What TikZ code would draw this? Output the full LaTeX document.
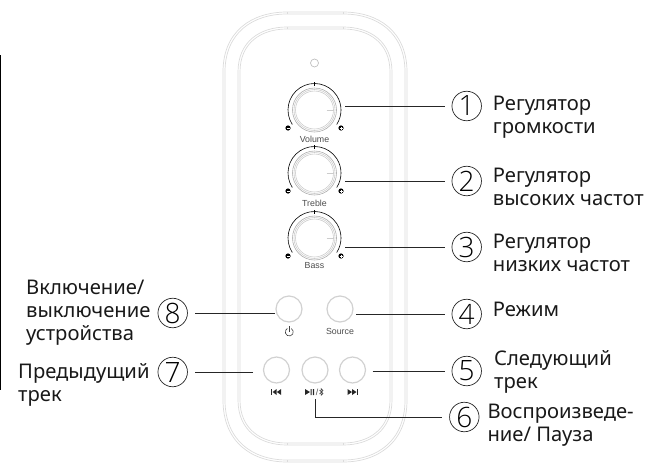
\documentclass[tikz,border=0pt]{standalone}
\usepackage{fontspec}
\setmainfont{Noto Sans}
\newfontfamily\labelfont{Liberation Sans}
\newfontfamily\numfont{Open Sans Light}
\newcommand{\outlinebody}[6]{% l r t b ytop ybottom
  (#1,#5) .. controls (#1,{#3+0.32*(#5-#3)}) and ({#1+0.45*(287-#1)},#3) .. (287,#3) -- (343,#3)
  .. controls ({#2-0.45*(#2-343)},#3) and (#2,{#3+0.32*(#5-#3)}) .. (#2,#5) -- (#2,#6)
  .. controls (#2,{#4-0.32*(#4-#6)}) and ({#2-0.45*(#2-343)},#4) .. (343,#4) -- (287,#4)
  .. controls ({#1+0.45*(287-#1)},#4) and (#1,{#4-0.32*(#4-#6)}) .. (#1,#6) -- cycle}
\newcommand{\knob}[3]{%
  \begin{scope}[shift={(314.5,#1)},y=1pt]
    \draw[scaleline] (213:26.5) arc[start angle=213,end angle=-33,radius=26.5];
    \draw[scaleline] (0,24.5) -- (0,28);
    \draw[bodythin,draw=black!32] (0,0) circle[radius=22];
    \draw[bodythin] (0,0) circle[radius=20.5];
    \draw[bodythin] (0,0) circle[radius=19];
    \draw[bodythin] (12,0) -- (19,0);
    \fill (-26.5,-18) circle[radius=2.6];
    \draw[white,line width=.5pt] (-28,-18) -- (-25,-18);
    \fill (26.5,-18) circle[radius=2.6];
    \draw[white,line width=.5pt] (25,-18) -- (28,-18) (26.5,-19.5) -- (26.5,-16.5);
    \node[paneltext] (#2) at (0,-#3) {#2};
  \end{scope}}
\tikzset{
  bodyline/.style={draw=black!14,line width=.7pt},
  bodythin/.style={draw=black!20,line width=.6pt},
  scaleline/.style={draw=black,line width=.6pt},
  buttonring/.style={circle,draw=black!18,line width=1.2pt,minimum size=26pt,inner sep=0pt},
  paneltext/.style={font=\labelfont\fontsize{8.8}{10}\selectfont,text=black!70,inner sep=0pt},
  lead/.style={draw=black!85,line width=.9pt,shorten >=7pt},
  numring/.style={circle,draw=black!85,line width=.7pt,minimum size=29.5pt,inner sep=0pt,text=black,font=\numfont\fontsize{28}{28}\selectfont},
  caption/.style={anchor=base west,align=left,inner sep=0pt,text=black!90,font=\fontsize{20.2}{23}\selectfont},
  iconfill/.style={fill=black!85,draw=none}
}
\begin{document}
\begin{tikzpicture}[x=1pt,y=-1pt]
\useasboundingbox (0,0) rectangle (664,469);
\draw[black,line width=1.3pt] (0,55) -- (0,390);
% body outlines
\draw[bodyline] \outlinebody{223}{407}{12}{462}{72}{400};
\draw[bodyline] \outlinebody{225}{405}{14}{460}{72}{400};
\draw[bodyline] \outlinebody{238}{392}{27}{445}{72}{400};
\draw[bodyline] \outlinebody{240}{390}{29}{443}{72}{400};
\draw[bodyline] (287,12) -- (287,14) (343,12) -- (343,14) (287,27) -- (287,29) (343,27) -- (343,29);
\draw[bodyline] (287,445) -- (287,443) (343,445) -- (343,443) (287,462) -- (287,460) (343,462) -- (343,460);
\node[circle,draw=black!25,line width=.7pt,minimum size=8pt,inner sep=0pt] (led) at (314.5,63) {};
% knobs
\knob{110}{Volume}{29.5}
\knob{173}{Treble}{30}
\knob{238}{Bass}{28}
% buttons
\node[buttonring] (power) at (289,309) {};
\node[buttonring] (source) at (340,309) {};
\node[buttonring] (prev) at (276.5,370) {};
\node[buttonring] (play) at (315,370) {};
\node[buttonring] (next) at (352.5,370) {};
\node[paneltext] (sourcetext) at (340,331) {Source};
% power icon
\begin{scope}[shift={(289.3,332)},y=1pt]
\draw[black!75,line width=.6pt] (60:4) arc[start angle=60,end angle=-240,radius=4];
\draw[black!75,line width=.6pt] (0,0.5) -- (0,6);
\end{scope}
% prev icon
\fill[iconfill] (271,389) rectangle (272.3,395);
\fill[iconfill] (272.6,392) -- (276.6,389) -- (276.6,395) -- cycle;
\fill[iconfill] (276.8,392) -- (281.2,389) -- (281.2,395) -- cycle;
% play/pause icon
\fill[iconfill] (305,389) -- (310,392) -- (305,395) -- cycle;
\fill[iconfill] (310.5,389) rectangle (311.7,395) (312.8,389) rectangle (314,395);
\node[paneltext] (slash) at (317,392) {/};
\draw[black!80,line width=.5pt] (321,395.5) -- (321,388.5) -- (323,390.5) -- (319.5,394) (319.5,390) -- (323,393.5) -- (321,395.5);
% next icon
\fill[iconfill] (347.5,389) -- (352,392) -- (347.5,395) -- cycle;
\fill[iconfill] (352,389) -- (356.5,392) -- (352,395) -- cycle;
\fill[iconfill] (356.7,389) rectangle (358,395);
% numbered circles
\node[numring] (n1) at (466.7,106) {1};
\node[numring] (n2) at (466.7,181) {2};
\node[numring] (n3) at (466.7,247) {3};
\node[numring] (n4) at (466.7,314) {4};
\node[numring] (n5) at (466.7,371) {5};
\node[numring] (n6) at (464.3,417) {6};
\node[numring] (n7) at (172.7,372) {7};
\node[numring] (n8) at (172.7,313) {8};
% connector starts
\coordinate (k1) at (345,106);
\coordinate (k2) at (345,181);
\coordinate (k3) at (345,247);
\coordinate (k4) at (356,314);
\coordinate (k5) at (372.7,371);
\coordinate (k6) at (315,399);
\coordinate (k7) at (253,372);
\coordinate (k8) at (275,313);
\draw[lead] (k1) -- (n1);
\draw[lead] (k2) -- (n2);
\draw[lead] (k3) -- (n3);
\draw[lead] (k4) -- (n4);
\draw[lead] (k5) -- (n5);
\draw[lead] (k6) |- (n6);
\draw[lead] (k7) -- (n7);
\draw[lead] (k8) -- (n8);
% captions (anchored on the last line's baseline)
\node[caption] (c1) at (492.7,133) {Регулятор\\громкости};
\node[caption] (c2) at (492.7,205) {Регулятор\\высоких частот};
\node[caption] (c3) at (492.7,271) {Регулятор\\низких частот};
\node[caption] (c4) at (492.7,316.7) {Режим};
\node[caption] (c5) at (494,388) {Следующий\\трек};
\node[caption] (c6) at (487.3,441.5) {Воспроизведе-\\ние/ Пауза};
\node[caption] (c7) at (18,401.5) {Предыдущий\\трек};
\node[caption] (c8) at (26,340) {Включение/\\выключение\\устройства};
\end{tikzpicture}
\end{document}
